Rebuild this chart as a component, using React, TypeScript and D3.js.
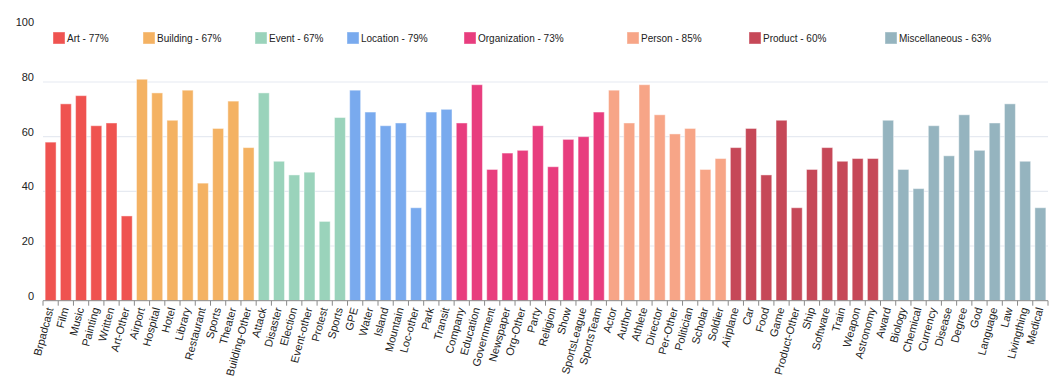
import React from "react";
import * as d3 from "d3";

const groups = ["Art", "Building", "Event", "Location", "Organization", "Person", "Product", "Miscellaneous"];
const groupScores = [77, 67, 67, 79, 73, 85, 60, 63];
const groupColors = ["#ef5350", "#f4b263", "#9ad3bb", "#79aaee", "#e83d7e", "#f7a587", "#c64858", "#95b4bf"];

const artCats = ["Brpadcast", "Film", "Music", "Painting", "Written", "Art-Other"];
const artVals = [58, 72, 75, 64, 65, 31];
const buildingCats = ["Airport", "Hospital", "Hotel", "Library", "Restaurant", "Sports", "Theater", "Building-Other"];
const buildingVals = [81, 76, 66, 77, 43, 63, 73, 56];
const eventCats = ["Attack", "Disaster", "Election", "Event-other", "Protest", "Sports"];
const eventVals = [76, 51, 46, 47, 29, 67];
const locationCats = ["GPE", "Water", "Island", "Mountain", "Loc-other", "Park", "Transit"];
const locationVals = [77, 69, 64, 65, 34, 69, 70];
const orgCats = ["Company", "Education", "Government", "Newspaper", "Org-Other", "Party", "Religion", "Show", "SportsLeague", "SportsTeam"];
const orgVals = [65, 79, 48, 54, 55, 64, 49, 59, 60, 69];
const personCats = ["Actor", "Author", "Athlete", "Director", "Per-Other", "Politician", "Scholar", "Soldier"];
const personVals = [77, 65, 79, 68, 61, 63, 48, 52];
const productCats = ["Airplane", "Car", "Food", "Game", "Product-Other", "Ship", "Software", "Train", "Weapon", "Astronomy"];
const productVals = [56, 63, 46, 66, 34, 48, 56, 51, 52, 52];
const miscCats = ["Award", "Biology", "Chemical", "Currency", "Disease", "Degree", "God", "Language", "Law", "Livingthing", "Medical"];
const miscVals = [66, 48, 41, 64, 53, 68, 55, 65, 72, 51, 34];

const yTicks = [0, 20, 40, 60, 80, 100];

// legend layout (pixel x offsets of each legend item)
const legendX = [53, 143, 255, 347, 464, 627, 749, 885];

const groupCats = [artCats, buildingCats, eventCats, locationCats, orgCats, personCats, productCats, miscCats];
const groupVals = [artVals, buildingVals, eventVals, locationVals, orgVals, personVals, productVals, miscVals];

type Bar = { key: string; label: string; value: number; color: string };
const bars: Bar[] = [];
groupCats.forEach((cats, gi) => {
  cats.forEach((c, i) => {
    bars.push({ key: `${gi}-${i}`, label: c, value: groupVals[gi][i], color: groupColors[gi] });
  });
});

const W = 1060;
const H = 376;
const left = 43;
const right = 1048;
const y0 = 300.7;
const yTop = 27.3;
const FONT = "'Liberation Sans', Arial, Helvetica, sans-serif";

export default function App() {
  const x = d3.scaleBand<string>().domain(bars.map((b) => b.key)).range([left, right]).paddingInner(0.28).paddingOuter(0.14);
  const y = d3.scaleLinear().domain([0, 100]).range([y0, yTop]);
  const tickXs = d3.range(bars.length + 1).map((i) => left + i * ((right - left) / bars.length));

  return (
    <svg width={W} height={H} style={{ position: "absolute", left: 0, top: 0, background: "#fff" }} fontFamily={FONT}>
      {yTicks.filter((t) => t > 0 && t < 100).map((t) => (
        <line key={t} x1={left} x2={right} y1={y(t)} y2={y(t)} stroke="#e6eaf1" strokeWidth={1.2} />
      ))}
      {yTicks.map((t) => (
        <text key={t} x={34} y={y(t) - 4} textAnchor="end" dominantBaseline="middle" fontSize={11} fill="#222">
          {t}
        </text>
      ))}
      {bars.map((b) => (
        <rect
          key={b.key}
          x={x(b.key)}
          y={y(b.value)}
          width={x.bandwidth()}
          height={y0 - y(b.value)}
          fill={b.color}
          stroke="#ffffff"
          strokeOpacity={0.45}
          strokeWidth={1}
        />
      ))}
      <line x1={left} x2={right} y1={y0} y2={y0} stroke="#8a8a8a" strokeWidth={1} />
      {tickXs.map((tx, i) => (
        <line key={i} x1={tx} x2={tx} y1={y0} y2={y0 + 5} stroke="#8a8a8a" strokeWidth={1} />
      ))}
      {bars.map((b) => {
        const cx = (x(b.key) as number) + x.bandwidth() / 2 + 3;
        const cy = y0 + 8;
        return (
          <text key={b.key} transform={`translate(${cx},${cy}) rotate(-75)`} textAnchor="end" fontSize={11} fill="#222">
            {b.label}
          </text>
        );
      })}
      {groups.map((g, i) => (
        <g key={g} transform={`translate(${legendX[i]},32)`}>
          <rect x={0} y={0} width={12} height={12} fill={groupColors[i]} stroke="#ffffff" strokeOpacity={0.4} />
          <text x={14} y={10} fontSize={10} fill="#222">
            {`${g} - ${groupScores[i]}%`}
          </text>
        </g>
      ))}
    </svg>
  );
}
